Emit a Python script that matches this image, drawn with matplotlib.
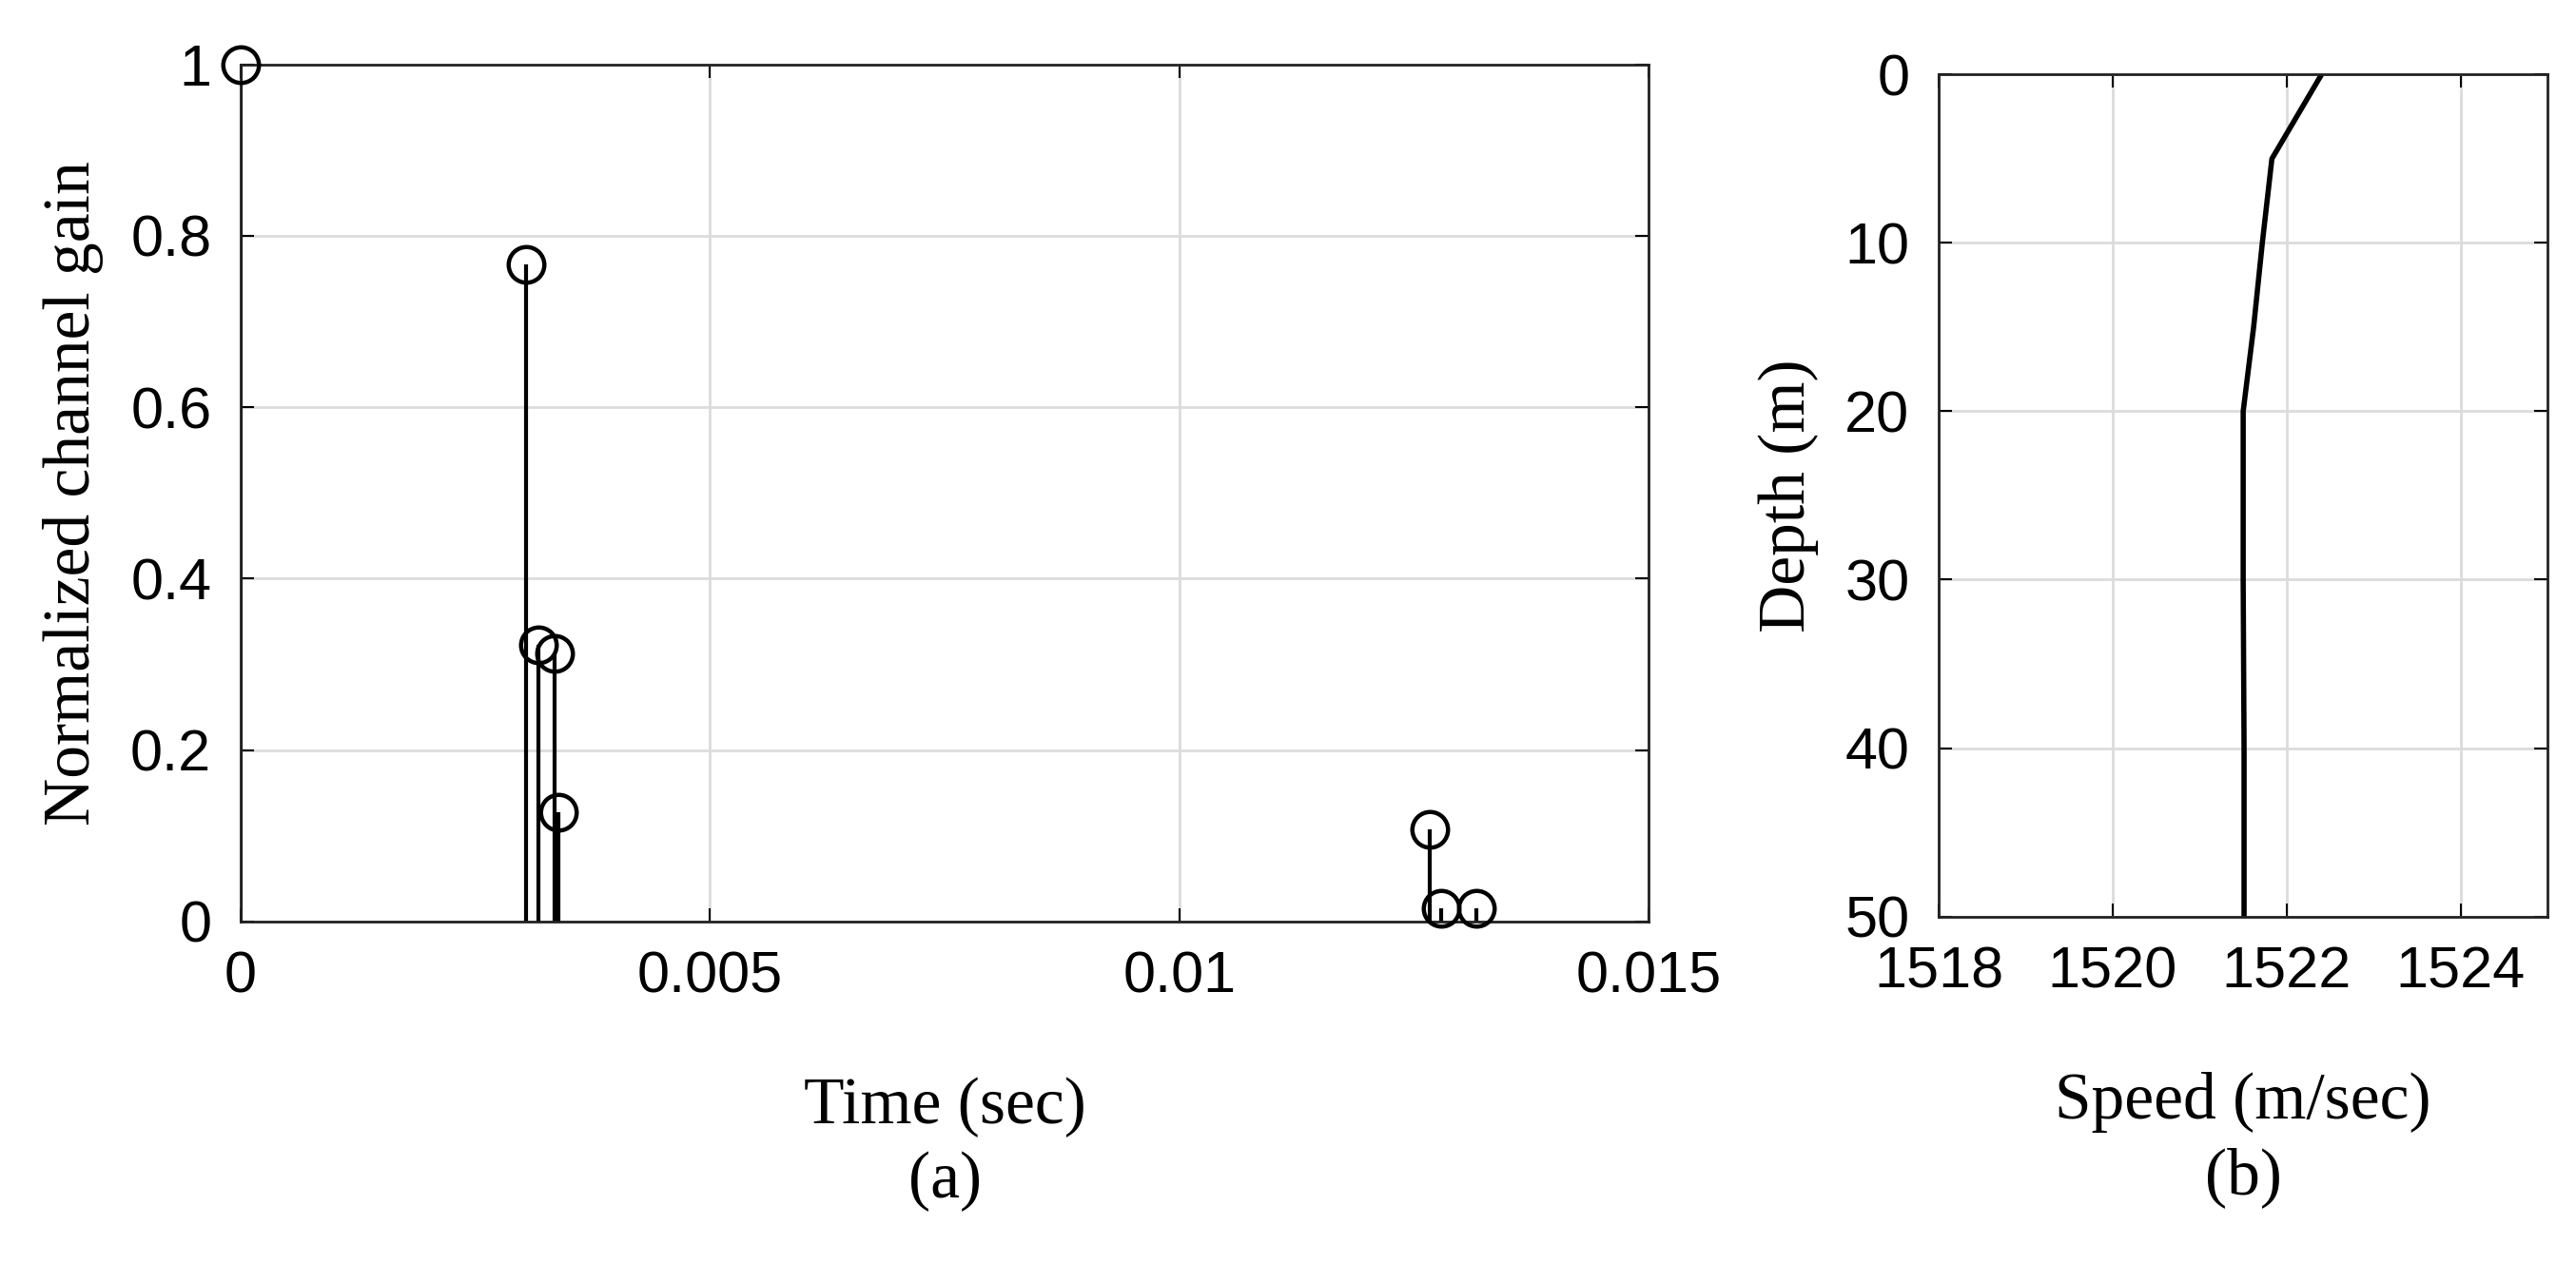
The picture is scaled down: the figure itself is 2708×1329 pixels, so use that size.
import matplotlib
matplotlib.use("Agg")
import matplotlib.pyplot as plt

time_s = [0.0, 0.00304, 0.00317, 0.00334, 0.00339, 0.01267, 0.01279, 0.01316]
gain = [1.0, 0.767, 0.323, 0.313, 0.127, 0.108, 0.015, 0.015]

depth_m = [0, 5, 10, 15, 20, 30, 40, 50]
speed = [1522.40, 1521.83, 1521.72, 1521.62, 1521.50, 1521.50, 1521.51, 1521.51]

fig = plt.figure(figsize=(27.08, 13.29), dpi=100)
tickfont = "Liberation Sans"
labfont = "Liberation Serif"
fs = 50
tfs = 44

ax1 = fig.add_axes([0.0934, 0.271, 0.5466, 0.678])
m, s, b = ax1.stem(time_s, gain, linefmt="k-", markerfmt="ko", basefmt=" ")
plt.setp(s, linewidth=3)
plt.setp(m, markerfacecolor="none", markeredgecolor="k", markersize=27,
         markeredgewidth=3.2, clip_on=False, zorder=5)
ax1.set_xlim(0, 0.015)
ax1.set_ylim(0, 1)
ax1.set_xticks([0, 0.005, 0.01, 0.015])
ax1.set_xticklabels(["0", "0.005", "0.01", "0.015"])
ax1.set_yticks([0, 0.2, 0.4, 0.6, 0.8, 1])
ax1.set_yticklabels(["0", "0.2", "0.4", "0.6", "0.8", "1"])
ax1.set_xlabel("Time (sec)\n(a)", fontsize=fs, family=labfont, labelpad=55, linespacing=1.3)
ax1.set_ylabel("Normalized channel gain", fontsize=fs, family=labfont, labelpad=20)

ax2 = fig.add_axes([0.7526, 0.275, 0.2364, 0.666])
ax2.plot(speed, depth_m, color="k", linewidth=4)
ax2.set_xlim(1518, 1525)
ax2.set_ylim(50, 0)
ax2.set_xticks([1518, 1520, 1522, 1524])
ax2.set_yticks([0, 10, 20, 30, 40, 50])
ax2.set_xlabel("Speed (m/sec)\n(b)", fontsize=fs, family=labfont, labelpad=55, linespacing=1.3)
ax2.set_ylabel("Depth (m)", fontsize=fs, family=labfont, labelpad=20)

for ax in (ax1, ax2):
    ax.grid(True, color="#dcdcdc", linewidth=2)
    ax.set_axisbelow(True)
    ax.tick_params(labelsize=tfs, direction="in", length=10, width=1.5, pad=22,
                   top=True, right=True)
    for lab in ax.get_xticklabels() + ax.get_yticklabels():
        lab.set_family(tickfont)
    for sp in ax.spines.values():
        sp.set_linewidth(2)
        sp.set_color("#222222")

fig.savefig("out.png", dpi=100, facecolor="white")
